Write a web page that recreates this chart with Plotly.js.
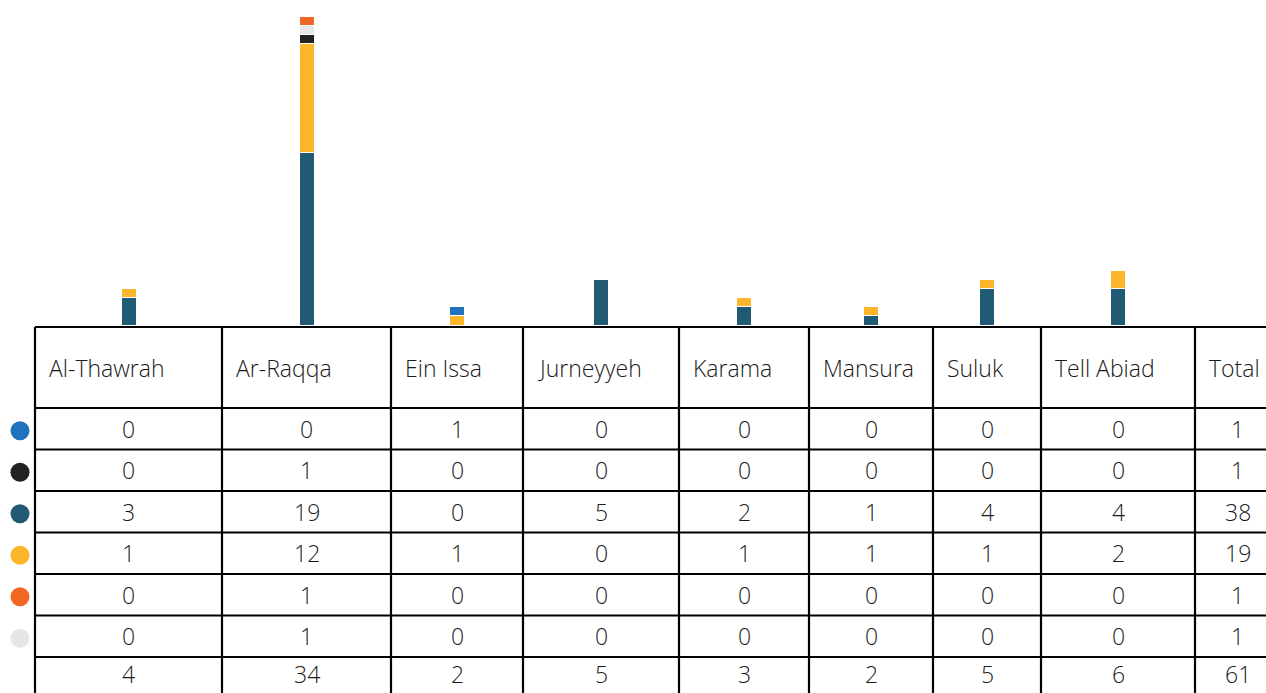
<!DOCTYPE html>
<html>
<head>
<meta charset="utf-8">
<script src="https://cdn.plot.ly/plotly-3.0.1.min.js"></script>
<style>html,body{margin:0;padding:0;background:#fff;}#chart{width:1266px;height:693px;}</style>
</head>
<body>
<div id="chart"></div>
<script>
// ---- data ----
const categories = ["Al-Thawrah", "Ar-Raqqa", "Ein Issa", "Jurneyyeh", "Karama", "Mansura", "Suluk", "Tell Abiad"];
const totalLabel = "Total";
// table row order (top to bottom)
const seriesBlue      = [0, 0, 1, 0, 0, 0, 0, 0];
const seriesBlack     = [0, 1, 0, 0, 0, 0, 0, 0];
const seriesTeal      = [3, 19, 0, 5, 2, 1, 4, 4];
const seriesYellow    = [1, 12, 1, 0, 1, 1, 1, 2];
const seriesOrange    = [0, 1, 0, 0, 0, 0, 0, 0];
const seriesLightGray = [0, 1, 0, 0, 0, 0, 0, 0];

// ---- styling / layout ----
const W = 1266, H = 693;
const colors = {blue:"#1f73bf", black:"#222222", teal:"#215a75", yellow:"#fbb62b", orange:"#f26624", lightgray:"#e6e5e7"};
const tableRows = [
  {v: seriesBlue, c: colors.blue, n: "Blue"},
  {v: seriesBlack, c: colors.black, n: "Black"},
  {v: seriesTeal, c: colors.teal, n: "Teal"},
  {v: seriesYellow, c: colors.yellow, n: "Yellow"},
  {v: seriesOrange, c: colors.orange, n: "Orange"},
  {v: seriesLightGray, c: colors.lightgray, n: "Light gray"}
];
// stacking order bottom -> top
const stackOrder = [2, 3, 0, 1, 5, 4];

const colEdges = [35, 222, 391, 523, 679, 809, 933, 1041, 1195, 1280];
const tableTop = 327, headerBottom = 408, rowH = 41.5;
const baseline = 325, yMax = 35.8;
const fontFam = "'Open Sans', 'Liberation Sans', sans-serif";
const textColor = "#1a1a1a";
const fontSize = 23;

const centers = [];
for (let i = 0; i < colEdges.length - 1; i++) centers.push((colEdges[i] + colEdges[i+1]) / 2);
const barX = categories.map((c, i) => centers[i]);

const traces = [];
stackOrder.forEach(idx => {
  const r = tableRows[idx];
  traces.push({
    type: "bar", x: barX, y: r.v, name: r.n, width: 15,
    marker: {color: r.c, line: {color: "#ffffff", width: 1}},
    xaxis: "x", yaxis: "y", hoverinfo: "skip", showlegend: false
  });
});

const rowCenter = i => headerBottom + rowH * (i + 0.5);
traces.push({
  type: "scatter", mode: "markers", xaxis: "x2", yaxis: "y2",
  x: tableRows.map(() => 20), y: tableRows.map((r, i) => rowCenter(i) + 2),
  marker: {size: 19, color: tableRows.map(r => r.c)},
  hoverinfo: "skip", showlegend: false
});

const shapes = [];
const line = (x0, y0, x1, y1) => shapes.push({type: "line", xref: "x2", yref: "y2", x0, y0, x1, y1, line: {color: "#000", width: 2.2}, layer: "above"});
const nRows = tableRows.length + 1;
const tableBottom = headerBottom + rowH * nRows;
line(colEdges[0], tableTop, W + 20, tableTop);
line(colEdges[0], headerBottom, W + 20, headerBottom);
for (let i = 1; i <= nRows; i++) line(colEdges[0], headerBottom + rowH * i, W + 20, headerBottom + rowH * i);
colEdges.forEach(x => line(x, tableTop, x, tableBottom + 10));

const annotations = [];
const ann = (text, x, y, xanchor, yanchor) => annotations.push({
  text: String(text), x, y, xref: "x2", yref: "y2", xanchor, yanchor: yanchor || "middle", showarrow: false,
  font: {family: fontFam, size: fontSize, color: textColor, weight: 300}
});
const headers = categories.concat([totalLabel]);
headers.forEach((h, i) => ann(h, colEdges[i] + 12, (tableTop + headerBottom) / 2, "left"));
tableRows.forEach((r, ri) => {
  r.v.forEach((v, ci) => ann(v, centers[ci], rowCenter(ri), "center"));
  ann(r.v.reduce((a, b) => a + b, 0), centers[categories.length], rowCenter(ri), "center");
});
// total row: keep the text box inside the picture
const totalRowBottom = H - 1;
const colTotals = categories.map((c, ci) => tableRows.reduce((a, r) => a + r.v[ci], 0));
colTotals.forEach((t, ci) => ann(t, centers[ci], totalRowBottom, "center", "bottom"));
ann(colTotals.reduce((a, b) => a + b, 0), centers[categories.length], totalRowBottom, "center", "bottom");

const layout = {
  width: W, height: H, margin: {l: 0, r: 0, t: 0, b: 0},
  paper_bgcolor: "#ffffff", plot_bgcolor: "rgba(0,0,0,0)",
  barmode: "stack", showlegend: false,
  xaxis: {range: [0, W], domain: [0, 1], visible: false, fixedrange: true, anchor: "y"},
  yaxis: {range: [0, yMax], domain: [1 - baseline / H, 1], visible: false, fixedrange: true, anchor: "x"},
  xaxis2: {range: [0, W], domain: [0, 1], visible: false, fixedrange: true, anchor: "y2"},
  yaxis2: {range: [H, 0], domain: [0, 1], visible: false, fixedrange: true, anchor: "x2"},
  shapes, annotations
};

Plotly.newPlot("chart", traces, layout, {staticPlot: true, displayModeBar: false});
</script>
</body>
</html>
